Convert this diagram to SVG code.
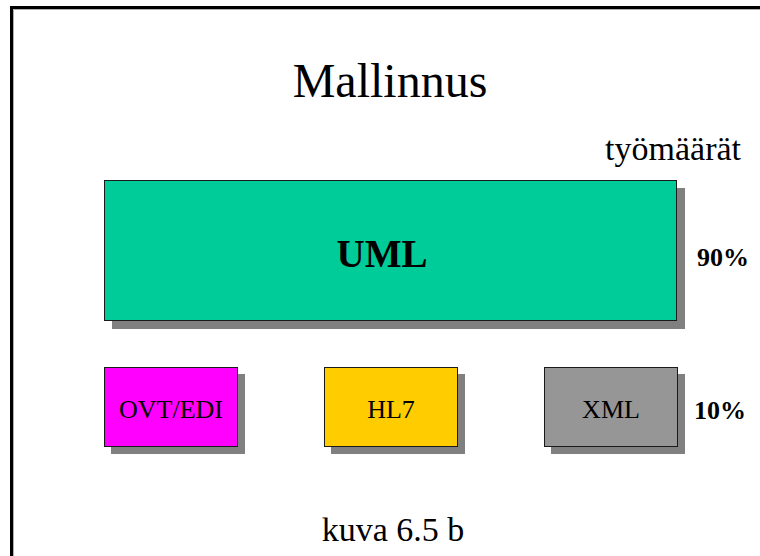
<svg xmlns="http://www.w3.org/2000/svg" width="760" height="556" viewBox="0 0 760 556">
<style>
text{font-family:"Liberation Serif","Times New Roman",serif;fill:#000}
.shadow{fill:#808080}
.box{stroke:#1a1a1a;stroke-width:1}
.lbl{font-size:26px;text-anchor:middle}
.pct{font-size:26px;font-weight:bold}
</style>
<rect width="760" height="556" fill="#fff"/>
<g id="frame">
<rect x="11.5" y="7.5" width="800" height="600" fill="none" stroke="#000" stroke-width="3"/>
<path d="M13.5 600 V9.5 H760" fill="none" stroke="#b0b0b0" stroke-width="1"/>
</g>
<text id="title" x="390" y="97" font-size="48" text-anchor="middle">Mallinnus</text>
<text id="tyomaarat" x="741" y="160" font-size="34" text-anchor="end">työmäärät</text>
<g id="uml">
<rect class="shadow" x="112" y="188" width="573" height="141"/>
<rect class="box" x="104.5" y="180.5" width="572" height="140" fill="#00CC99"/>
<text x="382" y="267" font-size="39" font-weight="bold" text-anchor="middle">UML</text>
</g>
<text id="p90" class="pct" x="697" y="266">90%</text>
<g id="ovtedi">
<rect class="shadow" x="111" y="374" width="134" height="80"/>
<rect class="box" x="104.5" y="367.5" width="133" height="79" fill="#FF00FF"/>
<text class="lbl" x="171" y="418">OVT/EDI</text>
</g>
<g id="hl7">
<rect class="shadow" x="331" y="374" width="134" height="80"/>
<rect class="box" x="324.5" y="367.5" width="133" height="79" fill="#FFCC00"/>
<text class="lbl" x="391" y="418">HL7</text>
</g>
<g id="xml">
<rect class="shadow" x="551" y="374" width="134" height="80"/>
<rect class="box" x="544.5" y="367.5" width="133" height="79" fill="#969696"/>
<text class="lbl" x="611" y="418">XML</text>
</g>
<text id="p10" class="pct" x="694" y="419">10%</text>
<g id="connectors"/>
<text id="caption" x="393" y="541" font-size="34" text-anchor="middle">kuva 6.5 b</text>
</svg>
